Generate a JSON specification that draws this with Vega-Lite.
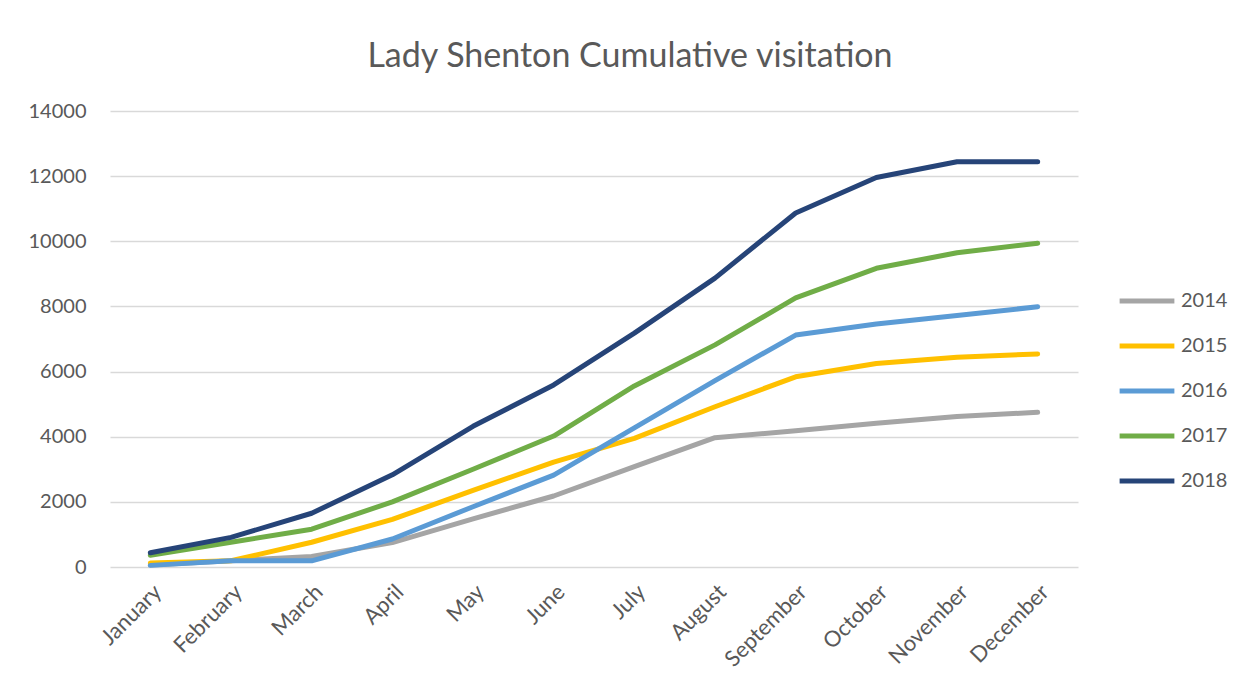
{
  "$schema": "https://vega.github.io/schema/vega-lite/v6.json",
  "autosize": "none",
  "width": 968,
  "height": 456,
  "padding": {"left": 110, "top": 111, "right": 165, "bottom": 119},
  "background": "white",
  "title": {
    "text": "Lady Shenton Cumulative visitation",
    "font": "Lato",
    "fontSize": 34,
    "fontWeight": "normal",
    "color": "#595959",
    "anchor": "middle",
    "dx": 36,
    "offset": 27
  },
  "data": {
    "values": [
      {"month": "January", "year": "2014", "visits": 60},
      {"month": "February", "year": "2014", "visits": 190},
      {"month": "March", "year": "2014", "visits": 320},
      {"month": "April", "year": "2014", "visits": 750},
      {"month": "May", "year": "2014", "visits": 1480},
      {"month": "June", "year": "2014", "visits": 2180},
      {"month": "July", "year": "2014", "visits": 3080},
      {"month": "August", "year": "2014", "visits": 3970},
      {"month": "September", "year": "2014", "visits": 4180},
      {"month": "October", "year": "2014", "visits": 4410},
      {"month": "November", "year": "2014", "visits": 4620},
      {"month": "December", "year": "2014", "visits": 4750},
      {"month": "January", "year": "2015", "visits": 120},
      {"month": "February", "year": "2015", "visits": 190},
      {"month": "March", "year": "2015", "visits": 760},
      {"month": "April", "year": "2015", "visits": 1460},
      {"month": "May", "year": "2015", "visits": 2350},
      {"month": "June", "year": "2015", "visits": 3220},
      {"month": "July", "year": "2015", "visits": 3950},
      {"month": "August", "year": "2015", "visits": 4920},
      {"month": "September", "year": "2015", "visits": 5840},
      {"month": "October", "year": "2015", "visits": 6250},
      {"month": "November", "year": "2015", "visits": 6440},
      {"month": "December", "year": "2015", "visits": 6540},
      {"month": "January", "year": "2016", "visits": 50},
      {"month": "February", "year": "2016", "visits": 190},
      {"month": "March", "year": "2016", "visits": 190},
      {"month": "April", "year": "2016", "visits": 860},
      {"month": "May", "year": "2016", "visits": 1850},
      {"month": "June", "year": "2016", "visits": 2820},
      {"month": "July", "year": "2016", "visits": 4270},
      {"month": "August", "year": "2016", "visits": 5720},
      {"month": "September", "year": "2016", "visits": 7120},
      {"month": "October", "year": "2016", "visits": 7460},
      {"month": "November", "year": "2016", "visits": 7720},
      {"month": "December", "year": "2016", "visits": 7990},
      {"month": "January", "year": "2017", "visits": 360},
      {"month": "February", "year": "2017", "visits": 760},
      {"month": "March", "year": "2017", "visits": 1160},
      {"month": "April", "year": "2017", "visits": 2000},
      {"month": "May", "year": "2017", "visits": 3000},
      {"month": "June", "year": "2017", "visits": 4020},
      {"month": "July", "year": "2017", "visits": 5560},
      {"month": "August", "year": "2017", "visits": 6820},
      {"month": "September", "year": "2017", "visits": 8260},
      {"month": "October", "year": "2017", "visits": 9170},
      {"month": "November", "year": "2017", "visits": 9650},
      {"month": "December", "year": "2017", "visits": 9940},
      {"month": "January", "year": "2018", "visits": 440},
      {"month": "February", "year": "2018", "visits": 910},
      {"month": "March", "year": "2018", "visits": 1650},
      {"month": "April", "year": "2018", "visits": 2830},
      {"month": "May", "year": "2018", "visits": 4320},
      {"month": "June", "year": "2018", "visits": 5590},
      {"month": "July", "year": "2018", "visits": 7180},
      {"month": "August", "year": "2018", "visits": 8870},
      {"month": "September", "year": "2018", "visits": 10870},
      {"month": "October", "year": "2018", "visits": 11960},
      {"month": "November", "year": "2018", "visits": 12440},
      {"month": "December", "year": "2018", "visits": 12440}
    ]
  },
  "mark": {"type": "line", "strokeWidth": 5, "strokeCap": "round", "strokeJoin": "round"},
  "encoding": {
    "x": {
      "field": "month",
      "type": "ordinal",
      "sort": null,
      "scale": {"type": "point", "padding": 0.5},
      "axis": {
        "title": null,
        "labelAngle": -45,
        "labelFont": "Lato",
        "labelFontSize": 22,
        "labelColor": "#595959",
        "labelPadding": 14,
        "labelDx": -6,
        "ticks": false,
        "domain": false,
        "grid": false
      }
    },
    "y": {
      "field": "visits",
      "type": "quantitative",
      "scale": {"domain": [0, 14000], "nice": false},
      "axis": {
        "title": null,
        "values": [0, 2000, 4000, 6000, 8000, 10000, 12000, 14000],
        "format": "d",
        "labelFont": "Lato",
        "labelFontSize": 20,
        "labelColor": "#595959",
        "labelPadding": 24,
        "ticks": false,
        "domain": false,
        "grid": true,
        "gridColor": "#D9D9D9",
        "gridWidth": 1.5
      }
    },
    "color": {
      "field": "year",
      "type": "nominal",
      "scale": {
        "domain": ["2014", "2015", "2016", "2017", "2018"],
        "range": ["#A5A5A5", "#FFC000", "#5B9BD5", "#70AD47", "#264478"]
      },
      "legend": {
        "title": null,
        "orient": "none",
        "legendX": 1007,
        "legendY": 160,
        "symbolType": "stroke",
        "symbolStrokeWidth": 5,
        "symbolSize": 3000,
        "labelFont": "Lato",
        "labelFontSize": 20,
        "labelColor": "#595959",
        "labelOffset": 4,
        "rowPadding": 5
      }
    }
  },
  "config": {
    "view": {"stroke": null}
  }
}
